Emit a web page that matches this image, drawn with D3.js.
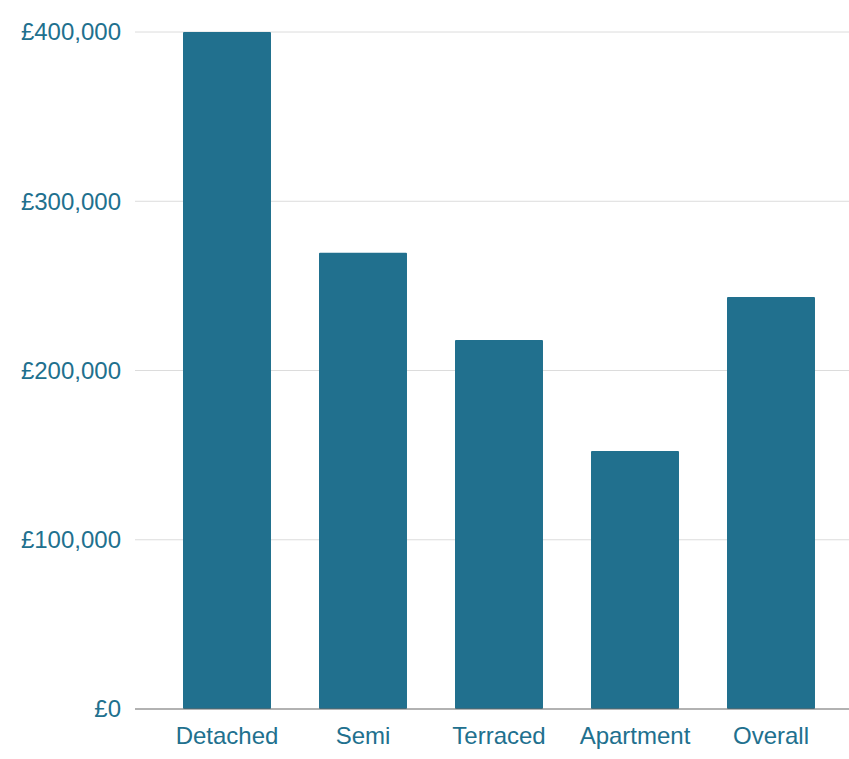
<!DOCTYPE html>
<html><head><meta charset="utf-8">
<script src="https://cdn.jsdelivr.net/npm/d3@7"></script>
<style>body{margin:0;background:#fff;}svg{display:block;}</style>
</head><body>
<svg id="c" width="849" height="759"></svg>
<script>
const categories = ["Detached", "Semi", "Terraced", "Apartment", "Overall"];
const values = [400000, 269500, 218000, 152500, 243500];
const yTicks = [0, 100000, 200000, 300000, 400000];

const svg = d3.select("#c");
const barColor = "#21708e";
const textColor = "#21708e";
const font = "'Liberation Sans', Arial, sans-serif";

const y = d3.scaleLinear().domain([0, 400000]).range([709, 32]);
const x = d3.scaleBand().domain(categories).range([159, 839]).paddingInner(0.353).paddingOuter(0.1765);

const fmt = v => "£" + d3.format(",")(v);

// gridlines
svg.append("g").selectAll("line").data(yTicks.filter(d => d > 0)).join("line")
  .attr("x1", 135).attr("x2", 849)
  .attr("y1", d => y(d)).attr("y2", d => y(d))
  .attr("stroke", "#dcdcdc").attr("stroke-width", 1);

// bars
svg.append("g").selectAll("rect").data(categories).join("rect")
  .attr("x", d => x(d)).attr("width", x.bandwidth())
  .attr("y", (d, i) => y(values[i])).attr("height", (d, i) => y(0) - y(values[i]))
  .attr("rx", 1).attr("fill", barColor);

// baseline
svg.append("line").attr("x1", 135).attr("x2", 849).attr("y1", y(0)).attr("y2", y(0))
  .attr("stroke", "#666").attr("stroke-width", 1.2);

// y labels
svg.append("g").selectAll("text").data(yTicks).join("text")
  .attr("x", 121).attr("y", d => y(d)).attr("dy", "0.35em")
  .attr("text-anchor", "end").attr("fill", textColor)
  .style("font-family", font).style("font-size", "24px")
  .text(fmt);

// x labels
svg.append("g").selectAll("text").data(categories).join("text")
  .attr("x", d => x(d) + x.bandwidth() / 2).attr("y", 736).attr("dy", "0.35em")
  .attr("text-anchor", "middle").attr("fill", textColor)
  .style("font-family", font).style("font-size", "24px")
  .text(d => d);
</script>
</body></html>
